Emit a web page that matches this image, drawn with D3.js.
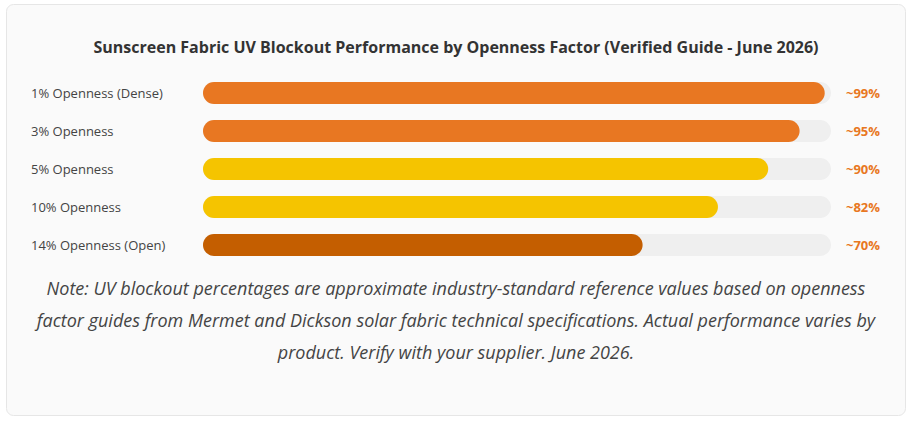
<!DOCTYPE html>
<html>
<head>
<meta charset="utf-8">
<script src="https://cdn.jsdelivr.net/npm/d3@7"></script>
<style>
  body { margin: 0; background: #fff; font-family: "Open Sans", sans-serif; }
  #chart { width: 914px; height: 423px; }
</style>
</head>
<body>
<div id="chart"></div>
<script>
var categories = ["1% Openness (Dense)", "3% Openness", "5% Openness", "10% Openness", "14% Openness (Open)"];
var blockout = [99, 95, 90, 82, 70];
var valueLabels = ["~99%", "~95%", "~90%", "~82%", "~70%"];
var barColors = ["#e87722", "#e87722", "#f5c400", "#f5c400", "#c45e00"];
var title = "Sunscreen Fabric UV Blockout Performance by Openness Factor (Verified Guide - June 2026)";
var noteLines = [
  "Note: UV blockout percentages are approximate industry-standard reference values based on openness",
  "factor guides from Mermet and Dickson solar fabric technical specifications. Actual performance varies by",
  "product. Verify with your supplier. June 2026."
];

var width = 914, height = 423;

var svg = d3.select("#chart").append("svg")
  .attr("width", width)
  .attr("height", height);

// card
svg.append("rect")
  .attr("x", 6.5).attr("y", 4.5)
  .attr("width", 899).attr("height", 411)
  .attr("rx", 7)
  .attr("fill", "#fafafa")
  .attr("stroke", "#e6e6e6");

svg.append("text")
  .attr("x", 456).attr("y", 53)
  .attr("text-anchor", "middle")
  .attr("font-size", 16)
  .attr("font-weight", 700)
  .attr("fill", "#333")
  .text(title);

var x = d3.scaleLinear().domain([0, 100]).range([203, 831]);
var y = d3.scaleBand().domain(categories).range([74, 264]).paddingInner(0.42).paddingOuter(0.21);

var rows = svg.selectAll("g.row")
  .data(categories)
  .enter().append("g")
  .attr("class", "row");

rows.append("text")
  .attr("x", 31)
  .attr("y", d => y(d) + y.bandwidth() / 2)
  .attr("dy", "0.35em")
  .attr("font-size", 13)
  .attr("fill", "#444")
  .text(d => d);

rows.append("rect")
  .attr("x", x(0))
  .attr("y", d => y(d))
  .attr("width", x(100) - x(0))
  .attr("height", y.bandwidth())
  .attr("rx", y.bandwidth() / 2)
  .attr("fill", "#efefef");

rows.append("rect")
  .attr("x", x(0))
  .attr("y", d => y(d))
  .attr("width", (d, i) => x(blockout[i]) - x(0))
  .attr("height", y.bandwidth())
  .attr("rx", y.bandwidth() / 2)
  .attr("fill", (d, i) => barColors[i]);

rows.append("text")
  .attr("x", 846)
  .attr("y", d => y(d) + y.bandwidth() / 2)
  .attr("dy", "0.35em")
  .attr("font-size", 13)
  .attr("font-weight", 700)
  .attr("fill", "#e87722")
  .text((d, i) => valueLabels[i]);

svg.append("g").selectAll("text")
  .data(noteLines)
  .enter().append("text")
  .attr("x", 456)
  .attr("y", (d, i) => 295 + i * 32)
  .attr("text-anchor", "middle")
  .attr("font-size", 18)
  .attr("font-style", "italic")
  .attr("fill", "#444")
  .text(d => d);
</script>
</body>
</html>
